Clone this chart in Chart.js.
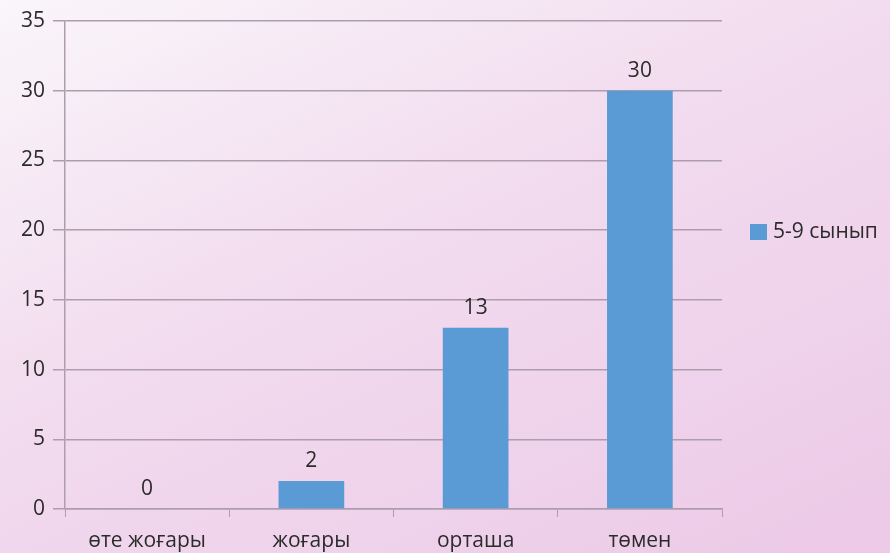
<!DOCTYPE html>
<html>
<head>
<meta charset="utf-8">
<script src="https://cdn.jsdelivr.net/npm/chart.js@4"></script>
<style>
html,body{margin:0;padding:0;}
body{width:890px;height:553px;overflow:hidden;
background:linear-gradient(155deg,#faf6fa 0%,#f2dcef 42%,#ecc9e7 100%);}
#wrap{position:relative;width:890px;height:553px;}
</style>
</head>
<body>
<div id="wrap"><canvas id="c" width="890" height="553"></canvas></div>
<script>
const categories = ["өте жоғары", "жоғары", "орташа", "төмен"];
const seriesName = "5-9 сынып";
const seriesValues = [0, 2, 13, 30];
const yTicks = [0, 5, 10, 15, 20, 25, 30, 35];

const FONT = "'Open Sans', 'DejaVu Sans', sans-serif";
const FSIZE = 21;
const TEXT = "#2b2b2b";
const GRID = "#ad9dad";
const BAR = "#5b9bd5";

const valueLabels = {
  id: 'valueLabels',
  afterDatasetsDraw(chart) {
    const ctx = chart.ctx;
    ctx.save();
    ctx.font = FSIZE + "px " + FONT;
    ctx.fillStyle = TEXT;
    ctx.textAlign = "center";
    ctx.textBaseline = "middle";
    chart.getDatasetMeta(0).data.forEach((el, i) => {
      ctx.fillText(String(chart.data.datasets[0].data[i]), el.x, el.y - 20);
    });
    ctx.restore();
  }
};

const sideLegend = {
  id: 'sideLegend',
  afterDraw(chart) {
    const ctx = chart.ctx;
    const ds = chart.data.datasets[0];
    const x = chart.chartArea.right + 28, y = 232;
    ctx.save();
    ctx.fillStyle = ds.backgroundColor;
    ctx.fillRect(x, y - 8, 17, 16);
    ctx.font = FSIZE + "px " + FONT;
    ctx.fillStyle = TEXT;
    ctx.textAlign = "left";
    ctx.textBaseline = "middle";
    ctx.fillText(ds.label, x + 23, y);
    ctx.restore();
  }
};

new Chart(document.getElementById('c'), {
  type: 'bar',
  data: {
    labels: categories,
    datasets: [{
      label: seriesName,
      data: seriesValues,
      backgroundColor: BAR,
      categoryPercentage: 1,
      barPercentage: 0.4
    }]
  },
  options: {
    responsive: false,
    animation: false,
    layout: { padding: { top: 21, right: 168, left: 0, bottom: 0 } },
    plugins: {
      legend: { display: false },
      tooltip: { enabled: false }
    },
    scales: {
      x: {
        offset: true,
        grid: { display: true, drawOnChartArea: false, drawTicks: true, tickLength: 8, color: GRID, offset: true },
        border: { display: true, color: GRID, width: 1.5 },
        ticks: { color: TEXT, font: { family: FONT, size: FSIZE }, padding: 11, maxRotation: 0, autoSkip: false },
        afterFit(s) { s.height = 44; }
      },
      y: {
        min: 0, max: 35,
        afterBuildTicks(s) { s.ticks = yTicks.map(v => ({ value: v })); },
        grid: { color: GRID, lineWidth: 1.5, tickLength: 12, drawTicks: true },
        border: { display: true, color: GRID, width: 1.5 },
        ticks: { color: TEXT, font: { family: FONT, size: FSIZE }, padding: 8 },
        afterFit(s) { s.width = 65; }
      }
    }
  },
  plugins: [valueLabels, sideLegend]
});
</script>
</body>
</html>
